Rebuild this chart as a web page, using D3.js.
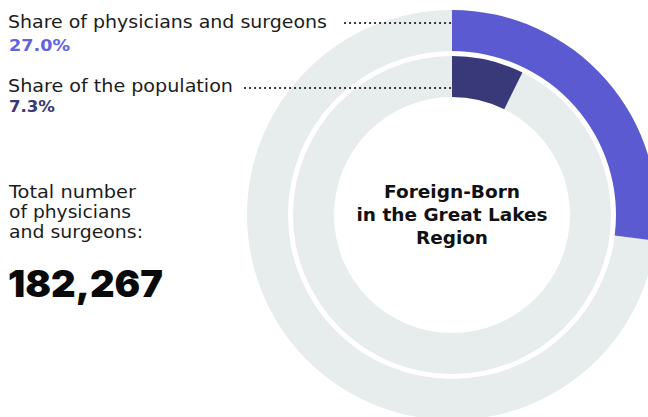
<!DOCTYPE html>
<html><head><meta charset="utf-8">
<script src="https://cdn.jsdelivr.net/npm/d3@7"></script>
<style>body{margin:0;background:#fff}svg{display:block}</style>
</head><body>
<svg id="c" width="648" height="417"></svg>
<script>
const ringLabels = ["Share of physicians and surgeons", "Share of the population"];
const ringValues = [27.0, 7.3];
const ringColors = ["#5b5ad1", "#393878"];
const valueColors = ["#6363e2", "#393878"];
const centerTitle = ["Foreign-Born", "in the Great Lakes", "Region"];
const totalLabel = ["Total number", "of physicians", "and surgeons:"];
const totalValue = 182267;

const svg = d3.select("#c");
const cx = 452, cy = 215;
const radii = [[164, 205], [118, 159]];
const track = "#e7eced";
const angle = d3.scaleLinear().domain([0, 100]).range([0, 2 * Math.PI]);

const g = svg.append("g").attr("transform", `translate(${cx},${cy})`);
ringValues.forEach((v, i) => {
  const [ri, ro] = radii[i];
  const arc = d3.arc().innerRadius(ri).outerRadius(ro);
  g.append("path").attr("d", arc({startAngle: 0, endAngle: 2 * Math.PI})).attr("fill", track);
  g.append("path").attr("d", arc({startAngle: 0, endAngle: angle(v)})).attr("fill", ringColors[i]);
});

const regular = "'DejaVu Sans', sans-serif";
const heavy = "'DejaVu Sans', sans-serif";

// labels
const labelY = [28, 92];
const labelW = [319, 225];
const valueY = [51, 112];
const valueW = [61, 46];
const lineY = [23, 88];
const lineX0 = [345, 245];
ringLabels.forEach((t, i) => {
  svg.append("text").attr("x", 8).attr("y", labelY[i])
    .attr("font-family", regular).attr("font-size", 17.5).attr("fill", "#1c1c1c")
    .attr("textLength", labelW[i]).attr("lengthAdjust", "spacingAndGlyphs").text(t);
  svg.append("line").attr("x1", lineX0[i]).attr("x2", cx - 1).attr("y1", lineY[i]).attr("y2", lineY[i])
    .attr("stroke", "#1c1c1c").attr("stroke-width", 2.2).attr("stroke-linecap", "round")
    .attr("stroke-dasharray", "0.1 4.9");
  svg.append("text").attr("x", 9).attr("y", valueY[i])
    .attr("font-family", heavy).attr("font-weight", 700).attr("font-size", 15.5)
    .attr("textLength", valueW[i]).attr("lengthAdjust", "spacingAndGlyphs")
    .attr("fill", valueColors[i]).text(d3.format(".1f")(ringValues[i]) + "%");
});

// center title
const titleW = [136, 191, 72];
centerTitle.forEach((t, i) => {
  g.append("text").attr("x", 0).attr("y", -17 + i * 23).attr("text-anchor", "middle")
    .attr("font-family", heavy).attr("font-weight", 700).attr("font-size", 18)
    .attr("textLength", titleW[i]).attr("lengthAdjust", "spacingAndGlyphs")
    .attr("fill", "#111").text(t);
});

// total
const totalW = [127, 122, 134];
totalLabel.forEach((t, i) => {
  svg.append("text").attr("x", 9).attr("y", 198 + i * 20)
    .attr("font-family", regular).attr("font-size", 17.5).attr("fill", "#1c1c1c")
    .attr("textLength", totalW[i]).attr("lengthAdjust", "spacingAndGlyphs").text(t);
});
svg.append("text").attr("x", 8).attr("y", 297)
  .attr("font-family", "Inter, sans-serif").attr("font-weight", 900).attr("font-size", 37.5)
  .attr("textLength", 155).attr("lengthAdjust", "spacingAndGlyphs")
  .attr("fill", "#0a0a0a").text(d3.format(",")(totalValue));
</script>
</body></html>
